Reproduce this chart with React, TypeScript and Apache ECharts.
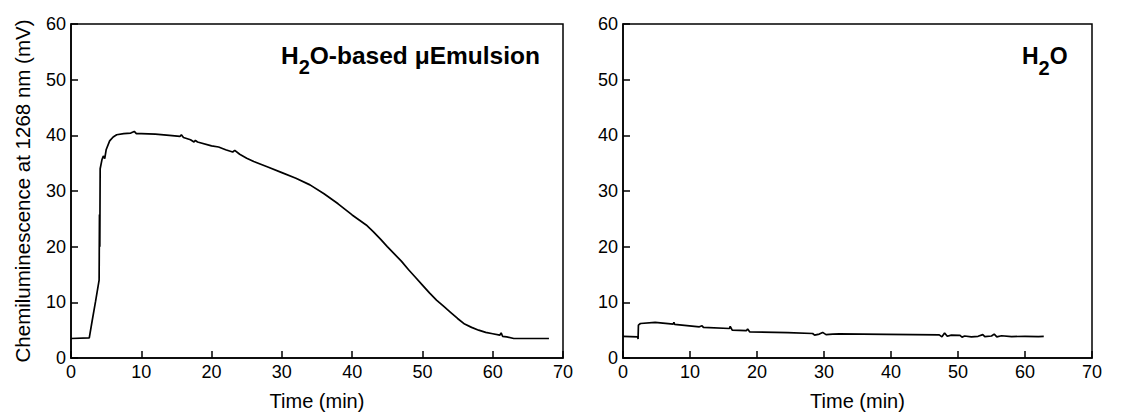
import React, { useEffect, useRef } from "react";
import * as echarts from "echarts";

// Time (min) vs chemiluminescence (mV)
const emulsionTrace: [number, number][] = [
  [0, 3.5], [2.6, 3.6], [3.0, 6.6], [3.5, 10.2], [4.0, 14.0], [4.05, 25.8], [4.1, 20.0],
  [4.15, 34.0], [4.4, 35.6], [4.6, 36.3], [4.8, 35.8], [5.0, 37.4], [5.5, 39.0], [6.0, 39.7],
  [6.5, 40.1], [7.5, 40.3], [8.5, 40.4], [9.0, 40.7], [9.3, 40.3], [10, 40.3], [12, 40.2],
  [14, 40.0], [15.5, 39.8], [15.7, 40.1], [16, 39.6], [17, 39.2], [17.5, 38.8], [17.7, 39.1],
  [18, 38.8], [20, 38.1], [21, 37.9], [22, 37.4], [23, 37.0], [23.3, 37.3], [24, 36.6],
  [25, 35.9], [26, 35.3], [28, 34.3], [30, 33.3], [32, 32.3], [34, 31.1], [36, 29.5],
  [37, 28.6], [38, 27.7], [40, 25.7], [41, 24.8], [42, 23.9], [43, 22.7], [44, 21.4],
  [45, 20.0], [46, 18.7], [47, 17.4], [48, 15.9], [49, 14.5], [50, 13.1], [51, 11.7],
  [52, 10.4], [53, 9.3], [54, 8.2], [55, 7.1], [56, 6.1], [57, 5.5], [58, 5.0], [59, 4.6],
  [60, 4.35], [61, 4.1], [61.2, 4.5], [61.4, 3.9], [62, 3.8], [63, 3.5], [68, 3.5],
];

const waterTrace: [number, number][] = [
  [0, 3.9], [2.2, 3.8], [2.25, 3.4], [2.3, 5.9], [2.6, 6.2], [4.8, 6.4], [7.5, 6.1],
  [7.6, 6.4], [7.7, 6.05], [11.4, 5.6], [11.8, 5.8], [12, 5.5], [15.9, 5.3], [16.0, 5.7],
  [16.3, 5.0], [18.4, 4.9], [18.6, 5.2], [18.9, 4.7], [24.6, 4.55], [28.3, 4.4],
  [28.6, 4.1], [29.3, 4.3], [29.8, 4.6], [30.3, 4.2], [31.3, 4.3], [32.3, 4.35],
  [39.3, 4.25], [47.2, 4.15], [47.6, 3.8], [48, 4.5], [48.4, 3.9], [49, 4.1], [50.3, 4.05],
  [50.6, 3.75], [51, 3.95], [52, 3.8], [53, 3.9], [53.7, 4.2], [54, 3.85], [55, 3.95],
  [55.4, 4.3], [55.8, 3.8], [56.5, 4.0], [58, 3.85], [60, 3.9], [62, 3.85], [62.8, 3.9],
];

const xTicks = { min: 0, max: 70, interval: 10 };
const yTicks = { min: 0, max: 60, interval: 10 };
const panelTitles = ["{a|H}{b|2}{a|O-based μEmulsion}", "{a|H}{b|2}{a|O}"];
const xAxisTitle = "Time (min)";
const yAxisTitle = "Chemiluminescence at 1268 nm (mV)";

const FONT = "'Liberation Sans', Arial, sans-serif";

function makeRich(size: number) {
  return {
    a: {
      fontSize: size, fontWeight: "bold" as const, fontFamily: FONT, color: "#000",
      lineHeight: 34, verticalAlign: "top" as const,
    },
    b: {
      fontSize: 20, fontWeight: "bold" as const, fontFamily: FONT, color: "#000",
      lineHeight: 20, verticalAlign: "bottom" as const,
    },
  };
}

export default function App() {
  const ref = useRef<HTMLDivElement>(null);
  useEffect(() => {
    if (!ref.current) return;
    const chart = echarts.init(ref.current, undefined, { renderer: "svg" });
    const grids = [
      { left: 71, top: 24, width: 492, height: 336 },
      { left: 623, top: 24, width: 469, height: 336 },
    ];
    const axisCommon = {
      axisLine: { show: true, lineStyle: { color: "#000", width: 1.5 } },
      axisTick: { show: true, inside: true, length: 7, lineStyle: { color: "#000", width: 1.5 } },
      splitLine: { show: false },
      axisLabel: { color: "#000", fontSize: 18, fontFamily: FONT },
    };
    chart.setOption({
      animation: false,
      backgroundColor: "#fff",
      grid: grids.map((g) => ({ ...g, show: true, borderColor: "#000", borderWidth: 1.5, backgroundColor: "transparent" })),
      xAxis: grids.map((_, i) => ({
        type: "value",
        gridIndex: i,
        ...xTicks,
        ...axisCommon,
        axisLabel: { ...axisCommon.axisLabel, margin: 5 },
        name: xAxisTitle,
        nameLocation: "middle",
        nameGap: 33,
        nameTextStyle: { color: "#000", fontSize: 20, fontFamily: FONT },
      })),
      yAxis: grids.map((_, i) => ({
        type: "value",
        gridIndex: i,
        ...yTicks,
        ...axisCommon,
        axisLabel: { ...axisCommon.axisLabel, margin: 5 },
        name: i === 0 ? yAxisTitle : "",
        nameLocation: "middle",
        nameGap: 38,
        nameTextStyle: { color: "#000", fontSize: 20.5, fontFamily: FONT },
      })),
      series: [
        {
          type: "line",
          xAxisIndex: 0,
          yAxisIndex: 0,
          data: emulsionTrace,
          showSymbol: false,
          lineStyle: { color: "#000", width: 1.7 },
        },
        {
          type: "line",
          xAxisIndex: 1,
          yAxisIndex: 1,
          data: waterTrace,
          showSymbol: false,
          lineStyle: { color: "#000", width: 1.7 },
        },
      ],
      graphic: [
        {
          type: "text",
          left: 281,
          top: 43,
          style: { text: panelTitles[0], rich: makeRich(24.5) },
        },
        {
          type: "text",
          left: 1022,
          top: 44,
          style: { text: panelTitles[1], rich: makeRich(23) },
        },
      ],
    });
    return () => chart.dispose();
  }, []);
  return (
    <div
      ref={ref}
      style={{ position: "fixed", left: 0, top: 0, width: 1132, height: 416 }}
    />
  );
}
